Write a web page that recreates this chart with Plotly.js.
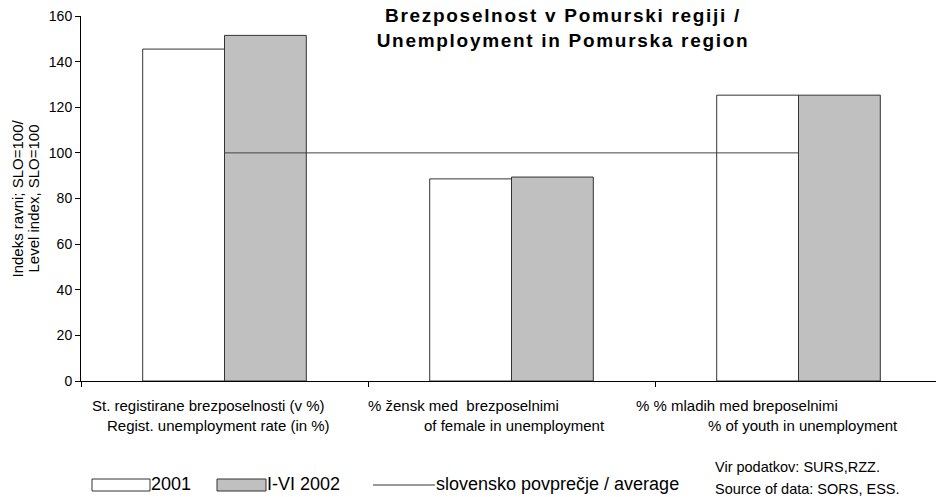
<!DOCTYPE html>
<html>
<head>
<meta charset="utf-8">
<script src="https://cdn.plot.ly/plotly-3.0.1.min.js"></script>
<style>
html,body{margin:0;padding:0;background:#fff;}
#chart{width:936px;height:497px;}
#chart .gtitle{letter-spacing:1.7px;}
</style>
</head>
<body>
<div id="chart"></div>
<script>
// ---- data ----
const categories = ["cat1", "cat2", "cat3"];
const labelsSl = ["St. registirane brezposelnosti (v %)", "% žensk med  brezposelnimi", "% % mladih med breposelnimi"];
const labelsEn = ["Regist. unemployment rate (in %)", "of female in unemployment", "% of youth in unemployment"];
const values2001 = [145.5, 88.6, 125.3];
const values2002 = [151.5, 89.4, 125.3];
const sloAverage = [100, 100, 100];
const seriesNames = ["2001", "I-VI 2002", "slovensko povprečje / average"];
const yTicks = [0, 20, 40, 60, 80, 100, 120, 140, 160];

// ---- styling ----
const FONT = "'Liberation Sans', Arial, sans-serif";
const slShift = [-16, -48, -62];
const enShift = [-6, 3, 4];

const traces = [
  {type: "bar", x: categories, y: values2001, name: seriesNames[0], showlegend: false,
   marker: {color: "#ffffff", line: {color: "#333333", width: 1}}},
  {type: "bar", x: categories, y: values2002, name: seriesNames[1], showlegend: false,
   marker: {color: "#c0c0c0", line: {color: "#333333", width: 1}}},
  {type: "scatter", mode: "lines", x: categories, y: sloAverage, name: seriesNames[2], showlegend: false,
   line: {color: "#444444", width: 1}}
];

const W = 936, H = 497, L = 81, R = 0, T = 16, B = 116;
const pw = W - L - R, ph = H - T - B;
const px = v => (v - L) / pw;
const py = v => (H - B - v) / ph;

const annotations = [];
categories.forEach((c, i) => {
  annotations.push({x: c, xref: "x", y: py(405), yref: "paper", xshift: slShift[i],
    text: labelsSl[i], showarrow: false, xanchor: "center", yanchor: "middle",
    font: {family: FONT, size: 15, color: "#000"}});
  annotations.push({x: c, xref: "x", y: py(425), yref: "paper", xshift: enShift[i],
    text: labelsEn[i], showarrow: false, xanchor: "center", yanchor: "middle",
    font: {family: FONT, size: 15, color: "#000"}});
});
// manual legend
const legendItems = [
  {x0: 92, x1: 150, fill: "#ffffff", kind: "rect", text: seriesNames[0]},
  {x0: 217, x1: 266, fill: "#c0c0c0", kind: "rect", text: seriesNames[1]},
  {x0: 373, x1: 435, fill: null, kind: "line", text: seriesNames[2]}
];
const shapes = [];
legendItems.forEach(it => {
  if (it.kind === "rect") {
    shapes.push({type: "rect", xref: "paper", yref: "paper", x0: px(it.x0), x1: px(it.x1),
      y0: py(491), y1: py(479), fillcolor: it.fill, line: {color: "#333", width: 1}});
  } else {
    shapes.push({type: "line", xref: "paper", yref: "paper", x0: px(it.x0), x1: px(it.x1),
      y0: py(485), y1: py(485), line: {color: "#333", width: 1}});
  }
  annotations.push({x: px(it.x1), xref: "paper", y: py(484), yref: "paper", text: it.text,
    showarrow: false, xanchor: "left", yanchor: "middle", xshift: -1,
    font: {family: FONT, size: 18, color: "#000"}});
});
annotations.push({x: px(713), xref: "paper", y: py(467), yref: "paper", text: "Vir podatkov: SURS,RZZ.",
  showarrow: false, xanchor: "left", yanchor: "middle", font: {family: FONT, size: 14.5, color: "#000"}});
annotations.push({x: px(713), xref: "paper", y: py(489), yref: "paper", text: "Source of data: SORS, ESS.",
  showarrow: false, xanchor: "left", yanchor: "middle", font: {family: FONT, size: 14.5, color: "#000"}});
// y-axis title (two lines)
annotations.push({x: px(17), xref: "paper", y: 0.5, yref: "paper", text: "Indeks ravni; SLO=100/",
  textangle: -90, showarrow: false, xanchor: "center", yanchor: "middle", font: {family: FONT, size: 15, color: "#000"}});
annotations.push({x: px(33), xref: "paper", y: 0.5, yref: "paper", text: "Level index, SLO=100",
  textangle: -90, showarrow: false, xanchor: "center", yanchor: "middle", font: {family: FONT, size: 15, color: "#000"}});

const layout = {
  width: W, height: H,
  margin: {l: L, r: R, t: T, b: B},
  paper_bgcolor: "#fff", plot_bgcolor: "#fff",
  font: {family: FONT, size: 12, color: "#000"},
  title: {text: "<b>Brezposelnost v Pomurski regiji /<br>Unemployment in Pomurska region</b>",
    xref: "paper", x: px(563), xanchor: "center", yref: "container", y: 1 - 22 / H, yanchor: "top",
    font: {family: FONT, size: 19, color: "#000"}},
  barmode: "group", bargap: 0.43, bargroupgap: 0,
  showlegend: false,
  xaxis: {type: "category", range: [-0.5, -0.5 + pw / 287], showticklabels: false,
    ticks: "outside", tickson: "boundaries", ticklen: 5, tickcolor: "#000",
    showline: true, linecolor: "#000", linewidth: 1, showgrid: false, zeroline: false, fixedrange: true},
  yaxis: {range: [0, 160], tickvals: yTicks, ticks: "outside", ticklen: 5, tickcolor: "#000",
    showline: true, linecolor: "#000", linewidth: 1, showgrid: false, zeroline: false,
    tickfont: {family: FONT, size: 14, color: "#000"}, fixedrange: true},
  annotations: annotations,
  shapes: shapes
};
Plotly.newPlot("chart", traces, layout, {displayModeBar: false, staticPlot: true});
</script>
</body>
</html>
